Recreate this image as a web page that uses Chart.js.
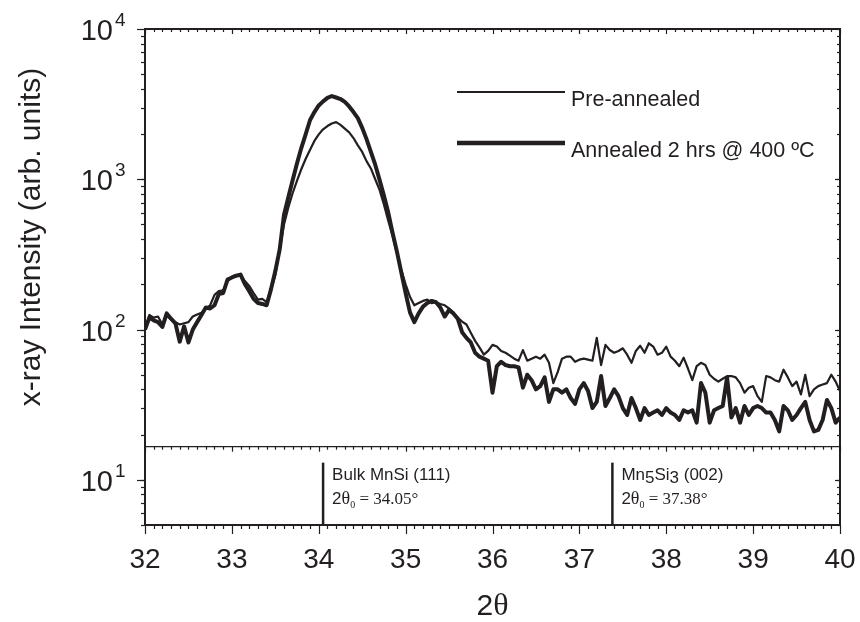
<!DOCTYPE html>
<html>
<head>
<meta charset="utf-8">
<script src="https://cdn.jsdelivr.net/npm/chart.js@4.4.1/dist/chart.umd.min.js"></script>
<style>
    html, body { margin: 0; padding: 0; background: #fff; }
    #wrap { width: 860px; height: 622px; }
</style>
</head>
<body>
<div id="wrap"><canvas id="xrdChart" width="860" height="622"></canvas></div>
<script>
// ================= DATA =================
const X_START = 32;
const X_STEP = 0.05;

// Pre-annealed (thin line), 32.00 ... 40.00 step 0.05
const preAnnealed = [
    100, 125, 120, 122, 108, 124, 116, 112, 108, 110,
    112, 122, 126, 129, 138, 145, 170, 180, 182, 210,
    222, 228, 230, 210, 195, 175, 158, 160, 152, 185,
    230, 340, 500, 650, 810, 980, 1170, 1370, 1570, 1800,
    1990, 2150, 2260, 2350, 2400, 2300, 2170, 2050, 1880, 1680,
    1520, 1320, 1180, 1000, 850, 680, 530, 420, 320, 250,
    200, 165, 145, 150, 155, 158, 150, 152, 148, 145,
    138, 129, 120, 113, 108, 95, 84, 76, 68, 72,
    79, 77, 72, 70, 67, 64, 62, 73, 62, 64,
    66, 64, 68, 60, 44, 52, 64, 66, 66, 61,
    63, 64, 63, 62, 88, 58, 79, 73, 70, 72,
    75, 68, 60, 72, 78, 70, 81, 77, 68, 70,
    77, 66, 62, 57, 65, 55, 46, 57, 60, 58,
    50, 47, 45, 47, 49, 49, 48, 44, 38, 41,
    42, 36, 33, 49, 48, 46, 45, 54, 48, 42,
    45, 37, 50, 36, 40, 42, 43, 44, 50, 45,
    39
];

// Annealed 2 hrs @ 400 C (thick line)
const annealed = [
    100, 120, 115, 112, 104, 128, 118, 110, 83, 105,
    82, 100, 112, 125, 140, 138, 145, 172, 175, 215,
    222, 228, 232, 200, 180, 160, 150, 148, 145, 185,
    245, 340, 580, 760, 990, 1280, 1620, 2000, 2480, 2800,
    3100, 3300, 3480, 3580, 3500, 3420, 3270, 3050, 2800, 2550,
    2200, 1850, 1520, 1250, 990, 780, 600, 440, 330, 240,
    175, 130, 112, 128, 142, 150, 155, 152, 140, 122,
    135, 128, 118, 96, 88, 82, 70, 66, 64, 62,
    38, 57, 61, 58, 57, 57, 56, 41, 50, 46,
    40, 42, 48, 33, 40, 40, 38, 40, 35, 32,
    40, 44, 39, 30, 33, 49, 31, 35, 40, 36,
    30, 27, 35, 30, 25, 30, 27, 28, 29, 27,
    30, 28, 27, 25, 29, 28, 29, 24, 44, 38,
    24, 29, 30, 31, 48, 26, 30, 24, 31, 27,
    30, 31, 30, 28, 28, 25, 21, 31, 29, 25,
    27, 30, 33, 25, 21, 21.5, 25, 34, 30, 24,
    26
];

const seriesNames = ["Pre-annealed", "Annealed 2 hrs @ 400 ºC"];

const xTicks = [32, 33, 34, 35, 36, 37, 38, 39, 40];
const yTicks = [10, 100, 1000, 10000];
const yTickExp = ["1", "2", "3", "4"];
const Y_MIN = 5;
const Y_MAX = 10000;

// reference peak markers (lower panel)
const refPositions = [34.05, 37.38];
const refFormula = ["Bulk MnSi", "Mn5Si3"];
const refPlane = ["(111)", "(002)"];
const refAngle = ["34.05°", "37.38°"];
const refHeight = [5, 13];
const SEPARATOR_Y = 16.6;

const INK = "#231f20";
const SANS = "'Liberation Sans', Arial, sans-serif";
const SERIF = "'Liberation Serif', 'Times New Roman', serif";


// ================= HELPERS =================
function toPoints(values) {
    return values.map((v, i) => ({ x: X_START + i * X_STEP, y: v }));
}

function segment(ctx, x1, y1, x2, y2) {
    ctx.beginPath();
    ctx.moveTo(x1, y1);
    ctx.lineTo(x2, y2);
    ctx.stroke();
}

// draws text pieces one after another, each with its own font and y shift
function drawRuns(ctx, runs, x, y) {
    let cx = x;
    runs.forEach(r => {
        ctx.font = r.font;
        ctx.fillText(r.text, cx, y + (r.dy || 0));
        cx += ctx.measureText(r.text).width;
    });
}


// ================= FRAME / TEXT PLUGIN =================
const framePlugin = {
    id: "frame",
    afterDatasetsDraw(chart) {
        const { ctx, chartArea: a, scales: { x, y } } = chart;
        ctx.save();
        ctx.strokeStyle = INK;
        ctx.fillStyle = INK;

        // box
        ctx.lineWidth = 2;
        ctx.strokeRect(a.left, a.top, a.right - a.left, a.bottom - a.top);

        // x ticks (minor every 0.1)
        ctx.lineWidth = 1.2;
        const sepPx = y.getPixelForValue(SEPARATOR_Y);
        for (let k = 0; k <= (xTicks[xTicks.length - 1] - xTicks[0]) * 10; k++) {
            const px = Math.round(x.getPixelForValue(xTicks[0] + k / 10)) + 0.5;
            const major = k % 10 === 0;
            segment(ctx, px, a.bottom, px, a.bottom + (major ? 9 : 4));
            segment(ctx, px, a.top, px, a.top + (major ? 5 : 3));
            segment(ctx, px, sepPx, px, sepPx + (major ? 5 : 3));
        }

        // y ticks (log minor 2..9)
        yTicks.forEach(t => {
            const base = t / 10;
            for (let m = 1; m <= 10; m++) {
                const v = m * base;
                if (v < Y_MIN || v > Y_MAX) continue;
                const py = Math.round(y.getPixelForValue(v)) + 0.5;
                const major = m === 10;
                segment(ctx, a.left - (major ? 8 : 4), py, a.left, py);
                segment(ctx, a.right, py, a.right - (major ? 5 : 3), py);
            }
        });

        // x tick labels
        ctx.textAlign = "center";
        ctx.textBaseline = "middle";
        ctx.font = "28px " + SANS;
        xTicks.forEach(t => {
            ctx.fillText(String(t), x.getPixelForValue(t), 560);
        });

        // y tick labels 10^n
        yTicks.forEach((t, i) => {
            const py = y.getPixelForValue(t);
            ctx.textAlign = "right";
            ctx.font = "29px " + SANS;
            ctx.fillText("10", 113, py + 3);
            ctx.textAlign = "left";
            ctx.font = "19px " + SANS;
            ctx.fillText(yTickExp[i], 115, py - 8);
        });

        // axis titles
        ctx.textAlign = "left";
        ctx.textBaseline = "middle";
        ctx.save();
        ctx.translate(32, 237);
        ctx.rotate(-Math.PI / 2);
        ctx.textAlign = "center";
        ctx.font = "30px " + SANS;
        ctx.fillText("x-ray Intensity (arb. units)", 0, 0);
        ctx.restore();

        ctx.textBaseline = "middle";
        ctx.font = "30px " + SANS;
        const w2 = ctx.measureText("2").width;
        ctx.font = "32px " + SERIF;
        const wt = ctx.measureText("θ").width;
        drawRuns(ctx, [
            { text: "2", font: "30px " + SANS },
            { text: "θ", font: "32px " + SERIF }
        ], (a.left + a.right) / 2 - (w2 + wt) / 2, 607);

        // legend
        ctx.lineWidth = 2.2;
        segment(ctx, 457, 92, 565, 92);
        ctx.lineWidth = 4.4;
        segment(ctx, 457, 143, 565, 143);
        ctx.font = "21.5px " + SANS;
        ctx.fillText(seriesNames[0], 571, 100);
        ctx.fillText(seriesNames[1], 571, 151);

        // reference peak labels
        ctx.textBaseline = "alphabetic";
        refPositions.forEach((p, i) => {
            const tx = x.getPixelForValue(p) + 9;
            const runs = [];
            refFormula[i].split(/(\d+)/).forEach(part => {
                if (!part) return;
                runs.push({ text: part, font: "17px " + SANS, dy: /\d/.test(part) ? 3 : 0 });
            });
            runs.push({ text: " " + refPlane[i], font: "17px " + SANS });
            drawRuns(ctx, runs, tx, 480);
            drawRuns(ctx, [
                { text: "2", font: "17px " + SANS },
                { text: "θ", font: "18px " + SERIF },
                { text: "0", font: "10px " + SERIF, dy: 4 },
                { text: " = " + refAngle[i], font: "17px " + SERIF }
            ], tx, 504);
        });

        ctx.restore();
    }
};


// ================= CHART =================
const markerSets = refPositions.map(p => ({
    data: refHeight.map(h => ({ x: p, y: h })),
    borderColor: INK,
    borderWidth: 2.5,
    pointRadius: 0
}));

new Chart(document.getElementById("xrdChart"), {
    type: "line",
    data: {
        datasets: [
            {
                label: seriesNames[0],
                data: toPoints(preAnnealed),
                borderColor: INK,
                borderWidth: 2.2,
                pointRadius: 0,
                tension: 0,
                borderJoinStyle: "round"
            },
            {
                label: seriesNames[1],
                data: toPoints(annealed),
                borderColor: INK,
                borderWidth: 4,
                pointRadius: 0,
                tension: 0,
                borderJoinStyle: "round"
            },
            {
                data: [{ x: xTicks[0], y: SEPARATOR_Y }, { x: xTicks[xTicks.length - 1], y: SEPARATOR_Y }],
                borderColor: INK,
                borderWidth: 1.2,
                pointRadius: 0
            },
            ...markerSets
        ]
    },
    options: {
        responsive: false,
        animation: false,
        devicePixelRatio: 1,
        layout: { padding: { left: 145, right: 20, top: 29, bottom: 97 } },
        plugins: {
            legend: { display: false },
            tooltip: { enabled: false }
        },
        scales: {
            x: { type: "linear", min: xTicks[0], max: xTicks[xTicks.length - 1], display: false },
            y: { type: "logarithmic", min: Y_MIN, max: Y_MAX, display: false }
        }
    },
    plugins: [framePlugin]
});
</script>
</body>
</html>
